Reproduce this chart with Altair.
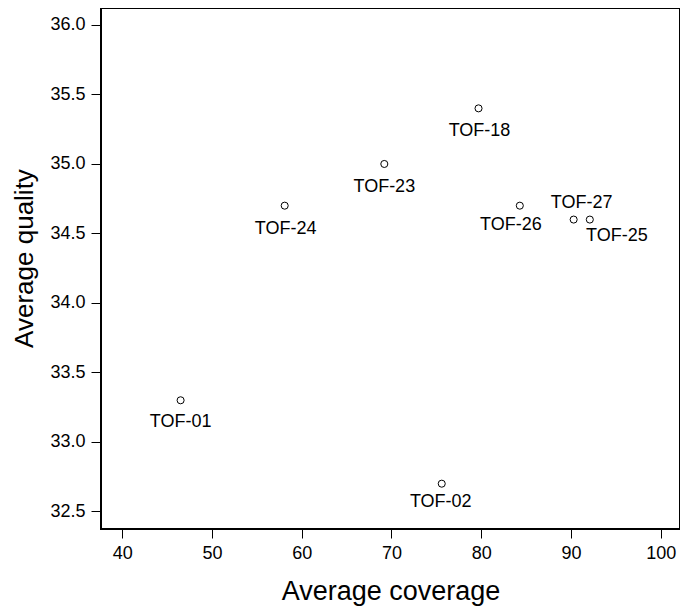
import altair as alt
import pandas as pd

# data
labels = ["TOF-01", "TOF-02", "TOF-24", "TOF-23", "TOF-18", "TOF-26", "TOF-27", "TOF-25"]
coverage = [46.5, 75.6, 58.1, 69.2, 79.7, 84.3, 90.3, 92.1]
quality = [33.3, 32.7, 34.7, 35.0, 35.4, 34.7, 34.6, 34.6]
x_ticks = [40, 50, 60, 70, 80, 90, 100]
y_ticks = [32.5, 33.0, 33.5, 34.0, 34.5, 35.0, 35.5, 36.0]

df = pd.DataFrame({"label": labels, "coverage": coverage, "quality": quality})

# label placement (pixel offsets from point), styling only
label_offsets = {
    "TOF-01": (0, 22),
    "TOF-02": (-1, 18),
    "TOF-24": (1, 23),
    "TOF-23": (0, 23),
    "TOF-18": (1, 23),
    "TOF-26": (-9, 19),
    "TOF-27": (8, -17),
    "TOF-25": (27, 16),
}

FONT = "Liberation Sans"
W, H = 579, 521

x = alt.X(
    "coverage:Q",
    scale=alt.Scale(domain=[37.63, 102.15], nice=False, zero=False),
    axis=alt.Axis(
        title="Average coverage",
        values=x_ticks,
        format="d",
        grid=False,
        domain=False,
        tickColor="black",
        tickSize=9,
        tickWidth=1,
        labelFontSize=18,
        labelFont=FONT,
        labelColor="black",
        labelPadding=6,
        titleFontSize=27,
        titleFont=FONT,
        titleFontWeight="normal",
        titleColor="black",
        titleBaseline="alphabetic",
        titleY=70,
    ),
)
y = alt.Y(
    "quality:Q",
    scale=alt.Scale(domain=[32.374, 36.122], nice=False, zero=False),
    axis=alt.Axis(
        title="Average quality",
        values=y_ticks,
        format=".1f",
        grid=False,
        domain=False,
        tickColor="black",
        tickSize=10,
        tickWidth=1,
        labelFontSize=18,
        labelFont=FONT,
        labelColor="black",
        labelPadding=6,
        titleFontSize=26,
        titleFont=FONT,
        titleFontWeight="normal",
        titleColor="black",
        titleBaseline="alphabetic",
        titleAngle=-90,
        titleX=-69,
        titleY=250,
    ),
)

points = alt.Chart(df).mark_point(
    shape="circle", filled=False, size=50, stroke="black", strokeWidth=1, opacity=1
).encode(x=x, y=y)

frame = alt.Chart(df).mark_rect(
    filled=False, stroke="black", strokeWidth=1.3, fillOpacity=0
).encode(
    x=alt.value(0), x2=alt.value(W), y=alt.value(0), y2=alt.value(H)
)

layers = [frame, points]
for lab, (dx, dy) in label_offsets.items():
    layers.append(
        alt.Chart(df)
        .transform_filter(alt.datum.label == lab)
        .mark_text(
            dx=dx, dy=dy, fontSize=18, font=FONT, color="black",
            align="center", baseline="middle",
        )
        .encode(x=x, y=y, text="label:N")
    )

chart = (
    alt.layer(*layers)
    .properties(
        width=W,
        height=H,
        autosize=alt.AutoSizeParams(type="none"),
        padding={"left": 93, "top": 0, "right": 0, "bottom": 80},
    )
    .configure_view(strokeOpacity=0, fill="white")
    .configure(background="white")
)

chart.save("out.html", embed_options={"renderer": "svg", "actions": False})
